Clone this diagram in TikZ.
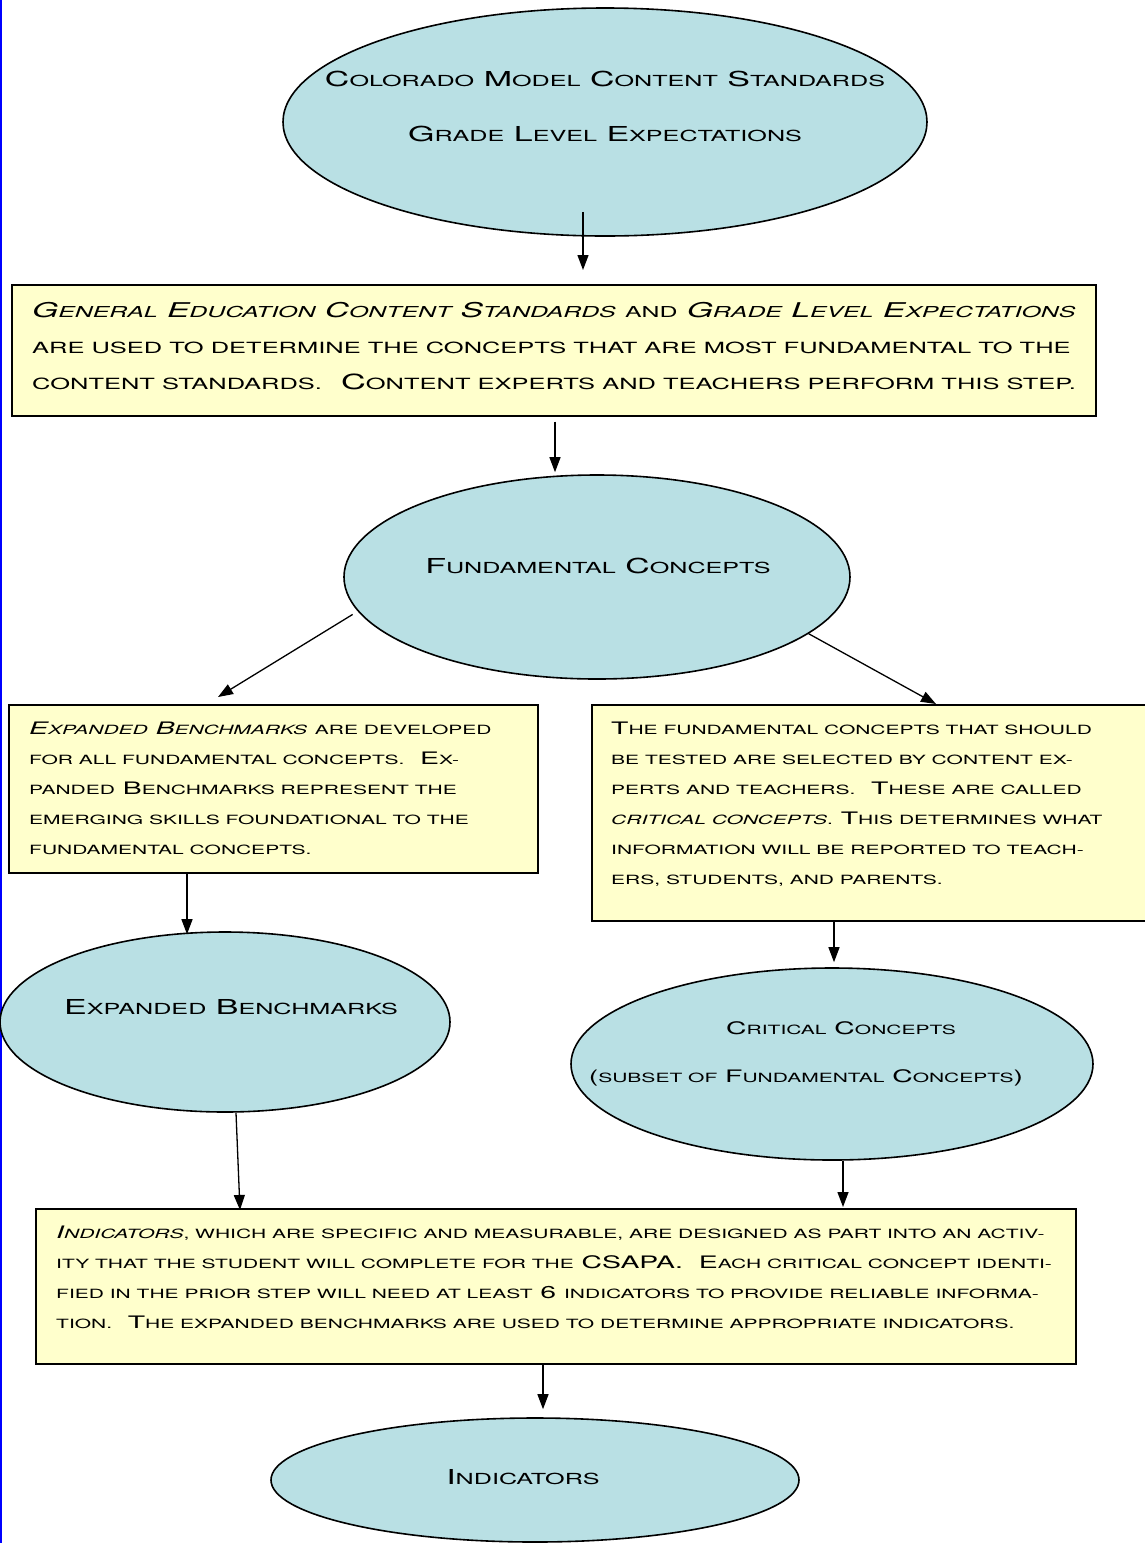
\documentclass[tikz,border=0pt]{standalone}
\usepackage{fontspec}
\setmainfont{TeX Gyre Heros}[FakeStretch=1.65]
\usetikzlibrary{shapes.geometric,arrows.meta}
\definecolor{ellfill}{RGB}{185,224,228}
\definecolor{boxfill}{RGB}{255,255,204}
\definecolor{edgeblue}{RGB}{0,0,255}
\makeatletter
\newcommand\lsc[1]{{\fontsize{\fpeval{0.74*\f@size}}{\f@baselineskip}\selectfont\MakeUppercase{#1}}}
\makeatother
\begin{document}
\begin{tikzpicture}[x=1pt,y=-1pt,
  ell/.style={ellipse,draw=black,line width=1.6pt,fill=ellfill,inner sep=0pt},
  box/.style={rectangle,draw=black,line width=1.6pt,fill=boxfill,inner sep=0pt,anchor=north west},
  bigtxt/.style={inner sep=0pt,align=left,anchor=north west,font=\fontsize{20.85}{36}\selectfont},
  smtxt/.style={inner sep=0pt,align=left,anchor=north west,font=\fontsize{17.2}{30}\selectfont},
  etxt/.style={inner sep=0pt,anchor=base,font=\fontsize{20.6}{24}\selectfont},
  esmtxt/.style={inner sep=0pt,anchor=base,font=\fontsize{17.2}{20}\selectfont},
  arr/.style={line width=1.3pt,-{Triangle[length=15pt,width=11pt]}}
]
\useasboundingbox (0,0) rectangle (1144,1543);
\draw[edgeblue,line width=2pt] (1,0) -- (1,1543);

% ellipses
\node[ell,minimum width=644pt,minimum height=228pt] (e1) at (605,122) {};
\node[ell,minimum width=506pt,minimum height=204pt] (e2) at (597,577) {};
\node[ell,minimum width=450pt,minimum height=180pt] (e3) at (225,1022) {};
\node[ell,minimum width=522pt,minimum height=192pt] (e4) at (832,1064) {};
\node[ell,minimum width=528pt,minimum height=124pt] (e5) at (535,1480) {};

% boxes
\node[box,minimum width=1084pt,minimum height=131pt] (b1) at (11,284) {};
\node[box,minimum width=529pt,minimum height=168pt] (b2) at (8,704) {};
\node[box,minimum width=561pt,minimum height=216pt] (b3) at (591,704) {};
\node[box,minimum width=1040pt,minimum height=155pt] (b4) at (35,1208) {};

% ellipse texts
\node[etxt] (t1a) at (605,86) {C\lsc{olorado} M\lsc{odel} C\lsc{ontent} S\lsc{tandards}};
\node[etxt] (t1b) at (605,141) {G\lsc{rade} L\lsc{evel} E\lsc{xpectations}};
\node[etxt] (t2) at (598,573) {F\lsc{undamental} C\lsc{oncepts}};
\node[etxt] (t3) at (231,1014) {E\lsc{xpanded} B\lsc{enchmarks}};
\node[esmtxt] (t4a) at (841,1034) {C\lsc{ritical} C\lsc{oncepts}};
\node[esmtxt] (t4b) at (806,1082) {(\lsc{subset of} F\lsc{undamental} C\lsc{oncepts})};
\node[etxt] (t5) at (523,1484) {I\lsc{ndicators}};

% box texts
\node[bigtxt] (x1) at (32,302) {{\fontsize{20.35}{36}\selectfont\textit{G\lsc{eneral} E\lsc{ducation} C\lsc{ontent} S\lsc{tandards}} \lsc{and} \textit{G\lsc{rade} L\lsc{evel} E\lsc{xpectations}}}\\
\lsc{are used to determine the concepts that are most fundamental to the}\\
\lsc{content standards.}\ \ C\lsc{ontent experts and teachers perform this step.}};
\node[smtxt] (x2) at (29,722) {\textit{E\lsc{xpanded} B\lsc{enchmarks}} \lsc{are developed}\\
\lsc{for all fundamental concepts.}\ \ E\lsc{x-}\\
\lsc{panded} B\lsc{enchmarks represent the}\\
\lsc{emerging skills foundational to the}\\
\lsc{fundamental concepts.}};
\node[smtxt] (x3) at (611,722) {T\lsc{he fundamental concepts that should}\\
\lsc{be tested are selected by content ex-}\\
\lsc{perts and teachers.}\ \ T\lsc{hese are called}\\
\textit{\lsc{critical concepts}}\lsc{.} T\lsc{his determines what}\\
\lsc{information will be reported to teach-}\\
\lsc{ers, students, and parents.}};
\node[smtxt] (x4) at (56,1226) {\textit{I\lsc{ndicators}}\lsc{, which are specific and measurable, are designed as part into an activ-}\\
\lsc{ity that the student will complete for the} CSAPA.\ \ E\lsc{ach critical concept identi-}\\
\lsc{fied in the prior step will need at least} 6 \lsc{indicators to provide reliable informa-}\\
\lsc{tion.}\ \ T\lsc{he expanded benchmarks are used to determine appropriate indicators.}};

% connectors
\draw[arr] ([xshift=-22pt,yshift=25pt]e1.south) -- ([xshift=572pt,yshift=14pt]b1.north west);
\draw[arr] ([xshift=544pt,yshift=-5pt]b1.south west) -- ([xshift=-42pt,yshift=2pt]e2.north);
\draw[arr] ([xshift=-8pt]e2.189) -- ([xshift=210pt,yshift=7pt]b2.north west);
\draw[arr] (e2.345) -- ([xshift=345pt]b3.north west);
\draw[arr] ([xshift=179pt]b2.south west) -- ([xshift=-38pt,yshift=-3pt]e3.north);
\draw[arr] ([xshift=243pt]b3.south west) -- ([xshift=2pt,yshift=5pt]e4.north);
\draw[arr] ([xshift=11pt]e3.south) -- ([xshift=205pt,yshift=-2pt]b4.north west);
\draw[arr] ([xshift=11pt]e4.south) -- ([xshift=808pt,yshift=1pt]b4.north west);
\draw[arr] ([xshift=508pt]b4.south west) -- ([xshift=8pt,yshift=8pt]e5.north);
\end{tikzpicture}
\end{document}
